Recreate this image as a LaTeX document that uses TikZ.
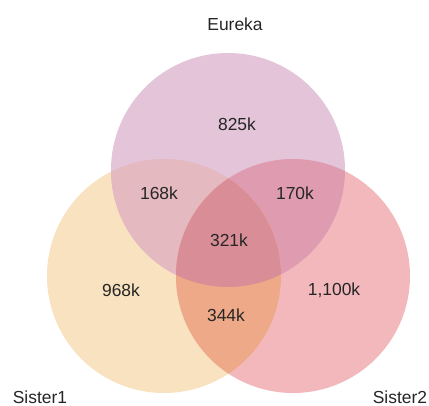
\documentclass[tikz,border=0pt]{standalone}
\usepackage{fontspec}
\setmainfont{Liberation Sans}
\definecolor{cE}{HTML}{E3C4D9}
\definecolor{cA}{HTML}{F8E2BF}
\definecolor{cB}{HTML}{F2B8BC}
\definecolor{cEA}{HTML}{E5B9C0}
\definecolor{cEB}{HTML}{DF9BB0}
\definecolor{cAB}{HTML}{EEAA88}
\definecolor{cEAB}{HTML}{D98D97}
\tikzset{lbl/.style={font=\fontsize{17.5}{20}\selectfont, text=black!85, inner sep=0pt}}
\begin{document}
\begin{tikzpicture}[x=1bp,y=-1bp]
\useasboundingbox (0,0) rectangle (429,406);
\fill[white] (0,0) rectangle (429,406);
\def\E{(228,170) circle (117)}
\def\A{(164,276) circle (117)}
\def\B{(293,276) circle (117)}
\fill[cA] \A;
\fill[cB] \B;
\fill[cE] \E;
\begin{scope}\clip \E; \fill[cEA] \A; \end{scope}
\begin{scope}\clip \E; \fill[cEB] \B; \end{scope}
\begin{scope}\clip \A; \fill[cAB] \B; \end{scope}
\begin{scope}\clip \E; \clip \A; \fill[cEAB] \B; \end{scope}
\node[lbl] (eureka) at (235,24) {Eureka};
\node[lbl] (s1) at (40,397) {Sister1};
\node[lbl] (s2) at (400,397) {Sister2};
\node[lbl] (n825) at (237,124) {825k};
\node[lbl] (n168) at (159,193) {168k};
\node[lbl] (n170) at (295,193) {170k};
\node[lbl] (n321) at (229,240) {321k};
\node[lbl] (n968) at (121,290) {968k};
\node[lbl] (n1100) at (334,290) {1,100k};
\node[lbl] (n344) at (226,315) {344k};
\end{tikzpicture}
\end{document}
